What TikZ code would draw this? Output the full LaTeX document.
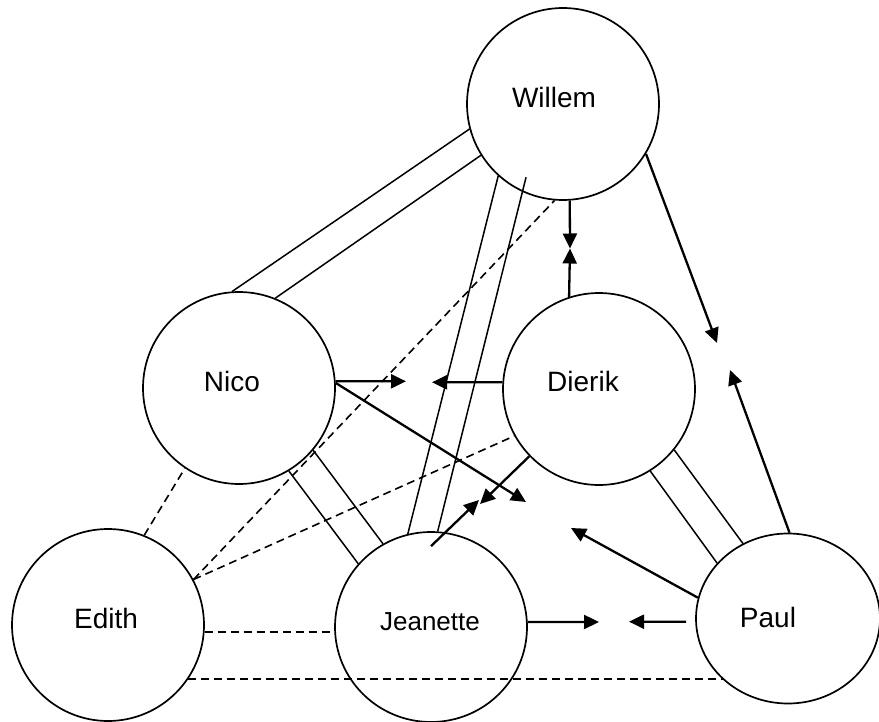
\documentclass[tikz,border=0pt]{standalone}
\usepackage{fontspec}
\setmainfont{Liberation Sans}
\usetikzlibrary{shapes.geometric}
\usetikzlibrary{arrows.meta}

\begin{document}
\begin{tikzpicture}[x=1pt, y=-1pt]
    \tikzstyle{person} = [draw, ellipse, line width=1.7pt, inner sep=0pt, minimum width=192pt, minimum height=192pt]
    \tikzstyle{who} = [font=\fontsize{28}{32}\selectfont, inner sep=0pt]
    \tikzstyle{tie} = [line width=1.5pt]
    \tikzstyle{loose} = [line width=1.6pt, dash pattern=on 8pt off 5pt]
    \tikzstyle{push} = [line width=2.3pt, -{Triangle[length=15pt, width=14pt]}]
    \useasboundingbox (0, 0) rectangle (879, 722);
    \node[person, label={[who, xshift=-9pt, yshift=7pt]center:Willem}] (willem) at (563, 104) {};
    \node[person, label={[who, xshift=-7pt, yshift=7pt]center:Nico}] (nico) at (239, 388) {};
    \node[person, label={[who, xshift=-16pt, yshift=8pt]center:Dierik}] (dierik) at (599, 389) {};
    \node[person, label={[who, xshift=-2pt, yshift=7pt]center:Edith}] (edith) at (108, 625) {};
    \node[person, minimum height=190pt, label={[who, font=\fontsize{26}{30}\selectfont, xshift=-1pt, yshift=5pt]center:Jeanette}] (jeanette) at (431, 627) {};
    \node[person, minimum width=184pt, minimum height=170pt, label={[who, xshift=-20pt, yshift=1pt]center:Paul}] (paul) at (788, 618.5) {};
    \coordinate (wd) at (570, 248.5);
    \coordinate (wp) at (717, 343);
    \coordinate (pw) at (730, 370);
    \coordinate (nd) at (406, 381.3);
    \coordinate (dn) at (432, 382.3);
    \coordinate (nj) at (526, 502);
    \coordinate (dj) at (480, 504);
    \coordinate (jd) at (479, 500);
    \coordinate (jp) at (599, 622);
    \coordinate (pj) at (629, 621.7);
    \coordinate (pn) at (571, 528);
    \draw[tie] (willem.195) -- (nico.94);
    \draw[tie] (willem.212) -- (nico.68);
    \draw[tie] (willem.228) -- (jeanette.104);
    \draw[tie] ([shift={(7, -13)}]willem.243) -- (jeanette.86);
    \draw[tie] (nico.-59) -- (jeanette.139);
    \draw[tie] (nico.-40) -- (jeanette.120);
    \draw[tie] (dierik.-39) -- (paul.121);
    \draw[tie] (dierik.-58) -- (paul.142);
    \draw[loose] (edith.28) -- (willem.265);
    \draw[loose] (edith.28) -- (dierik.209);
    \draw[loose] (edith.68) -- (nico.236);
    \draw[loose] (edith.-4) -- (edith.-4 -| jeanette.west);
    \draw[loose] (edith.-34) -- (edith.-34 -| paul.223);
    \draw[push] (willem.274) -- (wd);
    \draw[push] (dierik.108) -- (wd);
    \draw[push] (willem.-31) -- (wp);
    \draw[push] (paul.89) -- (pw);
    \draw[push] (nico.4) -- (nd);
    \draw[push] (dierik.176) -- (dn);
    \draw[push] (nico.3) -- (nj);
    \draw[push] (dierik.224) -- (dj);
    \draw[push] ([yshift=-15pt]jeanette.north) -- (jd);
    \draw[push] (jeanette.3) -- (jp);
    \draw[push] ([xshift=-9pt]paul.182) -- (pj);
    \draw[push] (paul.167) -- (pn);
\end{tikzpicture}
\end{document}
